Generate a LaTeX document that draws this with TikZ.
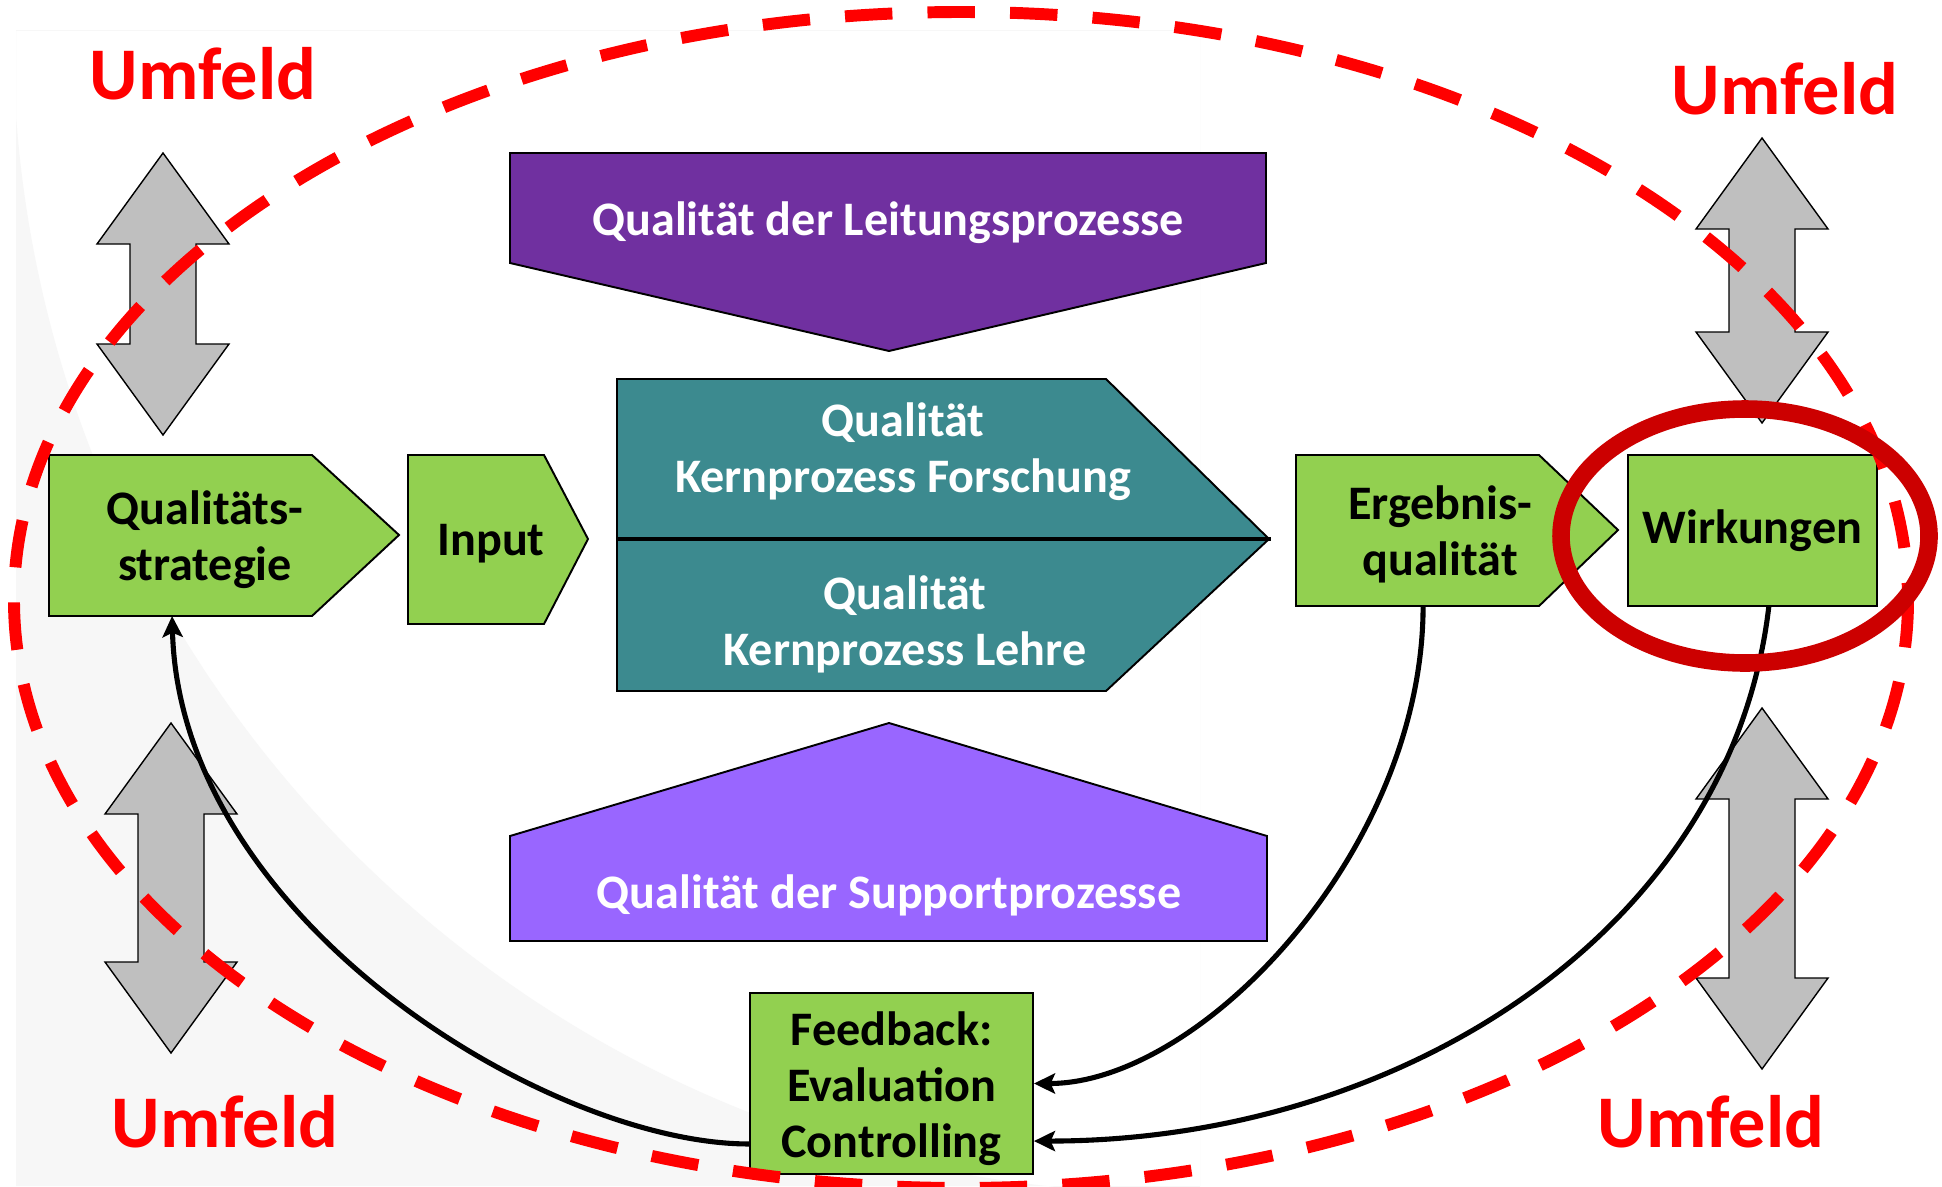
\documentclass[tikz,border=0pt]{standalone}
\usepackage{fontspec}
\setmainfont{Carlito}
\usetikzlibrary{arrows.meta}

\definecolor{gruen}{RGB}{146,208,80}
\definecolor{lila}{RGB}{112,48,160}
\definecolor{hlila}{RGB}{153,102,255}
\definecolor{petrol}{RGB}{60,138,143}
\definecolor{grau}{RGB}{191,191,191}
\definecolor{hgrund}{RGB}{247,247,247}
\definecolor{rot}{RGB}{255,0,0}
\definecolor{ringrot}{RGB}{204,0,0}

\begin{document}
\begin{tikzpicture}[x=0.02cm, y=-0.02cm,
    box/.style={draw=black, line width=1.1pt},
    txt/.style={align=center, inner sep=0pt, font=\fontsize{27.4}{31.8}\selectfont\bfseries},
    weiss/.style={txt, text=white},
    umfeld/.style={inner sep=0pt, text=rot, font=\fontsize{42.3}{50}\selectfont\bfseries},
    pfeil/.style={line width=2.9pt, -{Stealth[length=12pt, width=11.5pt, inset=2.5pt]}},
    doppel/.style={draw=black, fill=grau, line width=0.8pt}]

  \useasboundingbox (0,0) rectangle (1942,1186);
  \fill[white] (0,0) rectangle (1942,1186);

  % heller Hintergrund
  \begin{scope}
    \clip (16,31) rectangle (1200,1186);
    \fill[hgrund, even odd rule] (16,31) rectangle (1200,1186) (1175,31) circle[radius=1162];
  \end{scope}

  % Doppelpfeile zum Umfeld
  \foreach \x/\t/\b in {163/153/435, 1762/138/423, 171/723/1053, 1762/708/1069}
    \draw[doppel] (\x,\t) -- (\x+66,\t+91) -- (\x+33,\t+91) -- (\x+33,\b-91) -- (\x+66,\b-91)
      -- (\x,\b) -- (\x-66,\b-91) -- (\x-33,\b-91) -- (\x-33,\t+91) -- (\x-66,\t+91) -- cycle;

  % Leitung und Support
  \draw[box, fill=lila] (510,153) -- (1266,153) -- (1266,263) -- (889,351) -- (510,263) -- cycle;
  \node[weiss, anchor=base] (leit) at (888,235) {Qualität der Leitungsprozesse};
  \draw[box, fill=hlila] (889,723) -- (1267,836) -- (1267,941) -- (510,941) -- (510,836) -- cycle;
  \node[weiss, anchor=base] (supp) at (889,908) {Qualität der Supportprozesse};

  % Kernprozesse
  \draw[box, fill=petrol] (617,379) -- (1106,379) -- (1269,539) -- (1106,691) -- (617,691) -- cycle;
  \draw[line width=2.3pt] (617,539) -- (1271,539);
  \node[weiss] (forsch) at (903,452) {Qualität\\Kernprozess Forschung};
  \node[weiss] (lehre) at (905,624) {Qualität\\Kernprozess Lehre};

  % gruene Kaesten
  \draw[box, fill=gruen] (49,455) -- (312,455) -- (399,535) -- (312,616)
    -- coordinate[pos=0.532] (strat-s) (49,616) -- cycle;
  \node[txt] (strat) at (205,540) {Qualitäts-\\strategie};
  \draw[box, fill=gruen] (408,455) -- (544,455) -- (588,539) -- (544,624) -- (408,624) -- cycle;
  \node[txt, anchor=base] (input) at (491,555) {Input};
  \draw[box, fill=gruen] (1296,455) -- (1539,455) -- (1618,530) -- (1539,606)
    -- coordinate[pos=0.477] (erg-s) (1296,606) -- cycle;
  \node[txt] (erg) at (1440,534) {Ergebnis-\\qualität};
  \node[txt, box, fill=gruen, minimum width=4.98cm, minimum height=3.02cm] (wirk) at (1752.5,530.5) {Wirkungen};
  \node[txt, box, fill=gruen, text height=88.5pt, minimum width=5.66cm, minimum height=3.62cm] (fb) at (891.5,1083.5) {Feedback:\\Evaluation\\Controlling};

  % Rueckkopplung
  \draw[pfeil] (fb.203.8) .. controls +(-200,0) and +(8,304) .. (strat-s);
  \draw[pfeil] (erg-s) .. controls +(0,244) and +(167,0) .. (fb.east);
  \draw[pfeil] (wirk.-78) .. controls +(-38,324) and +(367,0) .. (fb.-22.5);

  % Systemgrenze
  \draw[rot, line width=6.8pt, dash pattern=on 27pt off 20pt] (961,600) ellipse [x radius=947, y radius=588];
  \draw[ringrot, line width=10pt] (1745,536) ellipse [x radius=184, y radius=127];

  \node[umfeld, anchor=base] (u1) at (203,99) {Umfeld};
  \node[umfeld, anchor=base] (u2) at (1785,114) {Umfeld};
  \node[umfeld, anchor=base] (u3) at (225,1147) {Umfeld};
  \node[umfeld, anchor=base] (u4) at (1711,1147) {Umfeld};
\end{tikzpicture}
\end{document}
